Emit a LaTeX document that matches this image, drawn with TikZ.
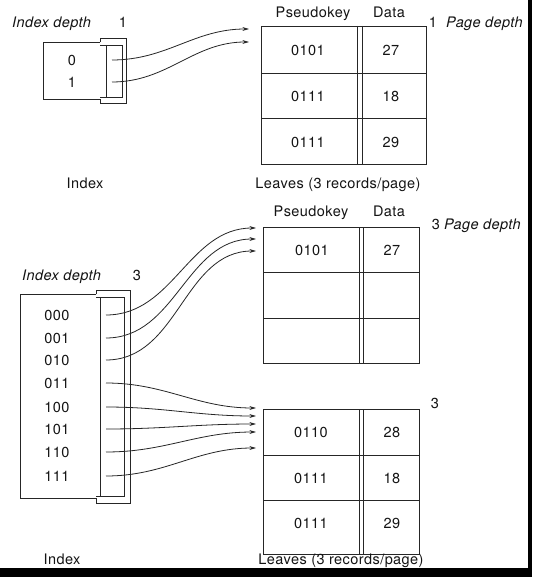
\documentclass[tikz,border=0pt]{standalone}
\usepackage{fontspec}
\setmainfont{TeX Gyre Heros}[LetterSpace=3.0]
\usetikzlibrary{arrows.meta}
\definecolor{ink}{HTML}{262626}
\definecolor{txt}{HTML}{141414}
\tikzset{
  ln/.style={draw=ink, line width=0.85pt},
  arr/.style={draw=ink, line width=0.8pt, -{Stealth[length=6.5pt,width=3.8pt]}},
  lbl/.style={inner sep=0pt, text=txt, font=\fontsize{14.5}{17}\selectfont, text height=10.3pt, text depth=0pt},
  ilbl/.style={lbl, font=\fontsize{14.5}{17}\selectfont\itshape},
}
\begin{document}
\begin{tikzpicture}[x=1pt,y=-1pt]
\useasboundingbox (0,0) rectangle (532,577);
\fill[white] (0,0) rectangle (532,577);

% ===== TOP =====
\node[ilbl, anchor=west] (idd1) at (12,22) {Index depth};
\node[lbl] (idv1) at (123,22) {1};
% index box
\draw[ln] (100,42) -- (43,42) -- (43,99) -- (100,99);
\draw[ln] (100,42) -- (100,38) -- (126,38) -- (126,103) -- (100,103) -- (100,99);
\draw[ln] (100,45) -- (122,45) -- (122,97) -- (100,97);
\draw[ln] (106,45) -- (106,97);
\node[lbl] (k0) at (72,60) {0};
\node[lbl] (k1) at (72,82) {1};
\coordinate (s0) at (112,60);
\coordinate (s1) at (112,82);
\node[lbl] (ix1) at (85,183) {Index};

% leaf page
\node[lbl] (pk1) at (313,12) {Pseudokey};
\node[lbl] (dt1) at (389,12) {Data};
\draw[ln] (261,26) rectangle (426,164);
\draw[ln] (261,73) -- (426,73);
\draw[ln] (261,118) -- (426,118);
\draw[ln] (357,26) -- (357,164);
\draw[ln] (362,26) -- (362,164);
\node[lbl] (c11) at (308,50) {0101};
\node[lbl] (d11) at (391,50) {27};
\node[lbl] (c12) at (308,96) {0111};
\node[lbl] (d12) at (391,96) {18};
\node[lbl] (c13) at (308,142) {0111};
\node[lbl] (d13) at (391,142) {29};
\coordinate (t0) at (249,29);
\coordinate (t1) at (249,42);
\node[lbl] (pd1n) at (433,22) {1};
\node[ilbl, anchor=west] (pd1) at (446,22) {Page depth};
\node[lbl] (lv1) at (338,183) {Leaves (3 records/page)};

\draw[arr] (s0) to[out=0,in=180] (t0);
\draw[arr] (s1) to[out=0,in=180] (t1);

% ===== BOTTOM =====
\node[ilbl, anchor=west] (idd3) at (22,275) {Index depth};
\node[lbl] (idv3) at (137,275) {3};
\draw[ln] (96,294) -- (20,294) -- (20,498) -- (96,498);
\draw[ln] (96,294) -- (96,290) -- (130,290) -- (130,503) -- (96,503) -- (96,498);
\draw[ln] (96,297) -- (124,297) -- (124,496) -- (96,496);
\draw[ln] (100,297) -- (100,496);
\foreach \k/\y in {000/315,001/338,010/360,011/383,100/407,101/429,110/452,111/476}{
  \node[lbl] (b\k) at (57,\y) {\k};
  \coordinate (bs\k) at (106,\y);
}
\node[lbl] (ix3) at (62,559) {Index};

\node[lbl] (pk3) at (311,211) {Pseudokey};
\node[lbl] (dt3) at (389,211) {Data};
\node[lbl] (pd3n) at (436,224) {3};
\node[ilbl, anchor=west] (pd3) at (444,224) {Page depth};

% page A
\draw[ln] (263,227) rectangle (419,363);
\draw[ln] (263,272) -- (419,272);
\draw[ln] (263,318) -- (419,318);
\draw[ln] (359,227) -- (359,363);
\draw[ln] (363,227) -- (363,363);
\node[lbl] (ca1) at (312,250) {0101};
\node[lbl] (da1) at (392,250) {27};
\coordinate (ta1) at (256,228);
\coordinate (ta2) at (256,239);
\coordinate (ta3) at (256,251);

% page B
\node[lbl] (pbn) at (435,403) {3};
\draw[ln] (263,409) rectangle (419,554);
\draw[ln] (263,455) -- (419,455);
\draw[ln] (263,500) -- (419,500);
\draw[ln] (359,409) -- (359,554);
\draw[ln] (363,409) -- (363,554);
\node[lbl] (cb1) at (311,432) {0110};
\node[lbl] (db1) at (392,432) {28};
\node[lbl] (cb2) at (311,478) {0111};
\node[lbl] (db2) at (392,478) {18};
\node[lbl] (cb3) at (311,523) {0111};
\node[lbl] (db3) at (392,523) {29};
\coordinate (tb1) at (256,408);
\coordinate (tb2) at (256,416);
\coordinate (tb3) at (256,424);
\coordinate (tb4) at (256,432);
\coordinate (tb5) at (256,448);
\node[lbl] (lv3) at (341,559) {Leaves (3 records/page)};

\draw[arr] (bs000) to[out=0,in=180] (ta1);
\draw[arr] (bs001) to[out=0,in=180] (ta2);
\draw[arr] (bs010) to[out=0,in=180] (ta3);
\draw[arr] (bs011) to[out=0,in=180] (tb1);
\draw[arr] (bs100) to[out=0,in=180] (tb2);
\draw[arr] (bs101) to[out=0,in=180] (tb3);
\draw[arr] (bs110) to[out=0,in=180] (tb4);
\draw[arr] (bs111) to[out=0,in=180] (tb5);

% scan border
\fill[black] (528,0) rectangle (532,577);
\fill[black] (0,568) rectangle (532,577);
\end{tikzpicture}
\end{document}
